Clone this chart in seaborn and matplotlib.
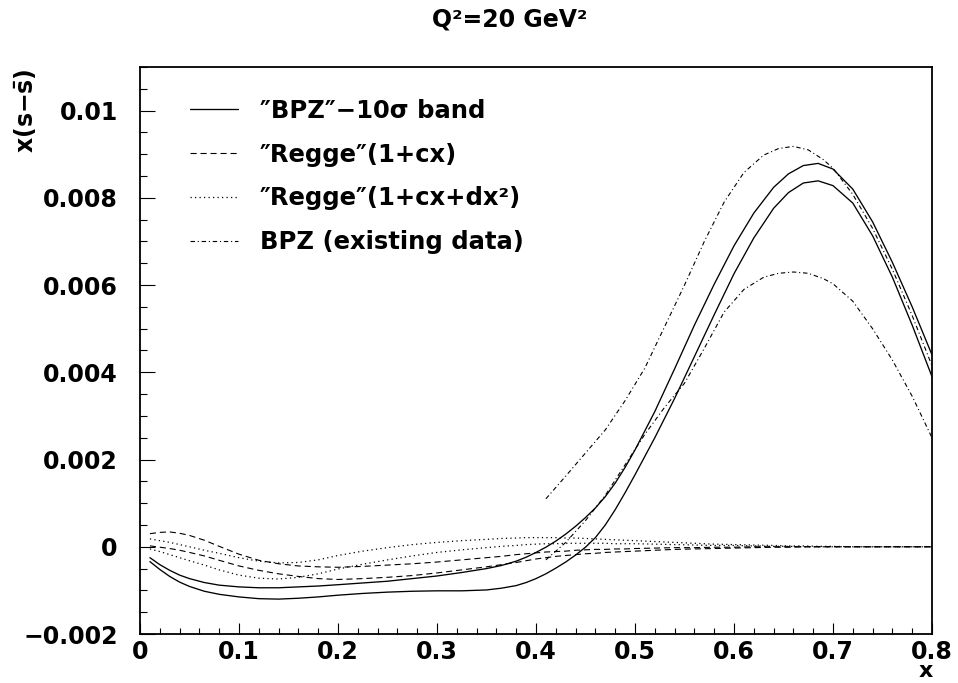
import numpy as np
import pandas as pd
import matplotlib
matplotlib.use("Agg")
import matplotlib.pyplot as plt
from matplotlib.lines import Line2D
from matplotlib.ticker import MultipleLocator, FixedLocator, FixedFormatter
import seaborn as sns

# ---------------- data ----------------
X_BAND = [0.01, 0.02, 0.03, 0.04, 0.05, 0.065, 0.08, 0.10, 0.12, 0.14,
          0.16, 0.18, 0.20, 0.225, 0.25, 0.275, 0.30, 0.325, 0.35, 0.365,
          0.38, 0.39, 0.40, 0.41, 0.42, 0.43, 0.44, 0.45, 0.46, 0.47,
          0.48, 0.49, 0.50, 0.52, 0.54, 0.56, 0.58, 0.60, 0.62, 0.64,
          0.655, 0.67, 0.685, 0.70, 0.72, 0.74, 0.76, 0.78, 0.80]

BPZ_BAND_UPPER = [-0.00025, -0.00041, -0.00054, -0.00065, -0.00073, -0.00082,
                  -0.00088, -0.00092, -0.00094, -0.00094,
                  -0.00092, -0.00090, -0.00087, -0.00083, -0.00079, -0.00073,
                  -0.00067, -0.00059, -0.00050, -0.00043,
                  -0.00033, -0.00024, -0.00013, -0.00001, 0.00013, 0.00029,
                  0.00047, 0.00067, 0.00089, 0.00115,
                  0.00146, 0.00182, 0.00222, 0.00310, 0.00408, 0.00508,
                  0.00602, 0.00690, 0.00765, 0.00824,
                  0.00855, 0.00874, 0.00879, 0.00866, 0.00820, 0.00745,
                  0.00652, 0.00550, 0.00440]

BPZ_BAND_LOWER = [-0.00034, -0.00052, -0.00068, -0.00081, -0.00091, -0.00102,
                  -0.00109, -0.00115, -0.00119, -0.00120,
                  -0.00118, -0.00115, -0.00111, -0.00107, -0.00104, -0.00102,
                  -0.00101, -0.00101, -0.00099, -0.00095,
                  -0.00089, -0.00082, -0.00073, -0.00062, -0.00049, -0.00035,
                  -0.00019, -0.00001, 0.00021, 0.00050,
                  0.00085, 0.00124, 0.00165, 0.00250, 0.00340, 0.00436,
                  0.00532, 0.00626, 0.00708, 0.00776,
                  0.00812, 0.00834, 0.00839, 0.00828, 0.00788, 0.00713,
                  0.00618, 0.00508, 0.00390]

REGGE1_UPPER = [0.00030, 0.00033, 0.00034, 0.00031, 0.00026, 0.00015,
                0.00001, -0.00017, -0.00031, -0.00039,
                -0.00044, -0.00046, -0.00047, -0.00045, -0.00042, -0.00039,
                -0.00035, -0.00030, -0.00025, -0.00022,
                -0.00018, -0.00016, -0.00014, -0.00012, -0.00011, -0.00010,
                -0.00008, -0.00007, -0.00006, -0.00006,
                -0.00005, -0.00005, -0.00004, -0.00003, -0.00002, -0.00002,
                -0.00001, -0.00001, 0.0, 0.0,
                0.0, 0.0, 0.0, 0.0, 0.0, 0.0, 0.0, 0.0, 0.0]

REGGE1_LOWER = [0.00002, -0.00001, -0.00004, -0.00008, -0.00013, -0.00021,
                -0.00031, -0.00044, -0.00054, -0.00062,
                -0.00068, -0.00073, -0.00075, -0.00073, -0.00070, -0.00066,
                -0.00060, -0.00053, -0.00046, -0.00041,
                -0.00036, -0.00032, -0.00028, -0.00025, -0.00022, -0.00020,
                -0.00018, -0.00016, -0.00015, -0.00013,
                -0.00012, -0.00011, -0.00010, -0.00008, -0.00006, -0.00005,
                -0.00004, -0.00003, -0.00002, -0.00001,
                -0.00001, 0.0, 0.0, 0.0, 0.0, 0.0, 0.0, 0.0, 0.0]

REGGE2_UPPER = [0.00018, 0.00014, 0.00010, 0.00005, 0.00000, -0.00008,
                -0.00015, -0.00025, -0.00033, -0.00037,
                -0.00036, -0.00030, -0.00020, -0.00010, -0.00002, 0.00005,
                0.00010, 0.00014, 0.00017, 0.00019,
                0.00020, 0.00021, 0.00021, 0.00021, 0.00021, 0.00020,
                0.00020, 0.00019, 0.00018, 0.00017,
                0.00016, 0.00015, 0.00014, 0.00012, 0.00010, 0.00008,
                0.00006, 0.00005, 0.00004, 0.00003,
                0.00002, 0.00002, 0.00001, 0.00001, 0.0, 0.0, 0.0, 0.0, 0.0]

REGGE2_LOWER = [-0.00005, -0.00011, -0.00018, -0.00025, -0.00032, -0.00042,
                -0.00053, -0.00065, -0.00072, -0.00074,
                -0.00070, -0.00062, -0.00051, -0.00040, -0.00030, -0.00021,
                -0.00013, -0.00007, -0.00002, 0.00001,
                0.00003, 0.00005, 0.00006, 0.00007, 0.00007, 0.00008,
                0.00008, 0.00008, 0.00008, 0.00008,
                0.00007, 0.00007, 0.00007, 0.00006, 0.00005, 0.00004,
                0.00003, 0.00003, 0.00002, 0.00001,
                0.00001, 0.0, 0.0, 0.0, 0.0, 0.0, 0.0, 0.0, 0.0]

X_EXIST = [0.41, 0.43, 0.45, 0.47, 0.49, 0.51, 0.53, 0.55, 0.57, 0.59, 0.61,
           0.63, 0.645, 0.66, 0.675, 0.69, 0.70, 0.72, 0.74, 0.76, 0.78, 0.80]

BPZ_EXIST_UPPER = [0.00110, 0.00162, 0.00215, 0.00268, 0.00335, 0.00410,
                   0.00505, 0.00600, 0.00700, 0.00790, 0.00858, 0.00898,
                   0.00913, 0.00918, 0.00910, 0.00888, 0.00868, 0.00808,
                   0.00730, 0.00636, 0.00530, 0.00415]

BPZ_EXIST_LOWER = [-0.00030, 0.00010, 0.00060, 0.00118, 0.00188, 0.00258,
                   0.00320, 0.00375, 0.00455, 0.00538, 0.00590, 0.00618,
                   0.00627, 0.00630, 0.00627, 0.00615, 0.00603, 0.00563,
                   0.00500, 0.00428, 0.00345, 0.00250]

LEGEND_LABELS = ["\u2033BPZ\u2033\u221210\u03c3 band",
                 "\u2033Regge\u2033(1+cx)",
                 "\u2033Regge\u2033(1+cx+dx\u00b2)",
                 "BPZ (existing data)"]

X_TICKS = [0.0, 0.1, 0.2, 0.3, 0.4, 0.5, 0.6, 0.7, 0.8]
X_TICK_LABELS = ["0", "0.1", "0.2", "0.3", "0.4", "0.5", "0.6", "0.7", "0.8"]
Y_TICKS = [-0.002, 0.0, 0.002, 0.004, 0.006, 0.008, 0.010]
Y_TICK_LABELS = ["\u22120.002", "0", "0.002", "0.004", "0.006", "0.008", "0.01"]

TITLE = "Q\u00b2=20 GeV\u00b2"
YLABEL = r"$\mathbf{x(s{-}\bar{s})}$"
XLABEL = "x"

# ---------------- styles ----------------
DASHED = (0, (5.5, 3.5))
DOTTED = (0, (1.0, 2.6))
DASHDOT = (0, (4.0, 2.5, 1.0, 2.5))

curves = [
    ("bpz_up", X_BAND, BPZ_BAND_UPPER, "-", 0.95),
    ("bpz_lo", X_BAND, BPZ_BAND_LOWER, "-", 0.95),
    ("r1_up", X_BAND, REGGE1_UPPER, DASHED, 0.8),
    ("r1_lo", X_BAND, REGGE1_LOWER, DASHED, 0.8),
    ("r2_up", X_BAND, REGGE2_UPPER, DOTTED, 0.9),
    ("r2_lo", X_BAND, REGGE2_LOWER, DOTTED, 0.9),
    ("ex_up", X_EXIST, BPZ_EXIST_UPPER, DASHDOT, 0.8),
    ("ex_lo", X_EXIST, BPZ_EXIST_LOWER, DASHDOT, 0.8),
]

frames = []
for name, xs, ys, _, _ in curves:
    assert len(xs) == len(ys), (name, len(xs), len(ys))
    frames.append(pd.DataFrame({"x": xs, "y": ys, "curve": name}))
df = pd.concat(frames, ignore_index=True)

# ---------------- figure ----------------
sns.set_theme(style="ticks")
plt.rcParams["font.family"] = ["DejaVu Sans"]
plt.rcParams["font.weight"] = "bold"
plt.rcParams["mathtext.default"] = "regular"
plt.rcParams["text.color"] = "black"

fig = plt.figure(figsize=(9.58, 6.83), dpi=100)
ax = fig.add_axes([140 / 958, 1 - 634 / 683, 792 / 958, 567 / 683])

for name, _, _, ls, lw in curves:
    sns.lineplot(data=df[df["curve"] == name], x="x", y="y", ax=ax,
                 color="black", linewidth=lw, linestyle=ls,
                 estimator=None, sort=False, legend=False)

ax.set_xlim(0, 0.8)
ax.set_ylim(-0.002, 0.011)
ax.set_xlabel("")
ax.set_ylabel("")

ax.xaxis.set_major_locator(FixedLocator(X_TICKS))
ax.xaxis.set_major_formatter(FixedFormatter(X_TICK_LABELS))
ax.yaxis.set_major_locator(FixedLocator(Y_TICKS))
ax.yaxis.set_major_formatter(FixedFormatter(Y_TICK_LABELS))
ax.xaxis.set_minor_locator(MultipleLocator(0.02))
ax.yaxis.set_minor_locator(MultipleLocator(0.0005))

ax.tick_params(which="both", direction="in", top=False, right=False,
               color="black", width=0.8, labelsize=17, labelcolor="black")
ax.tick_params(axis="x", which="major", length=8, pad=4)
ax.tick_params(axis="x", which="minor", length=4)
ax.tick_params(axis="y", which="major", length=11, pad=16)
ax.tick_params(axis="y", which="minor", length=5)
for lab in ax.get_xticklabels() + ax.get_yticklabels():
    lab.set_fontweight("bold")

for sp in ax.spines.values():
    sp.set_visible(True)
    sp.set_linewidth(1.3)
    sp.set_color("black")

handles = [
    Line2D([], [], color="black", lw=0.95, linestyle="-"),
    Line2D([], [], color="black", lw=0.8, linestyle=DASHED),
    Line2D([], [], color="black", lw=0.9, linestyle=DOTTED),
    Line2D([], [], color="black", lw=0.8, linestyle=DASHDOT),
]
leg = ax.legend(handles, LEGEND_LABELS, loc="upper left",
                bbox_to_anchor=(50 / 792, (634 - 99) / 567), frameon=False,
                prop={"size": 17.5, "weight": "bold"},
                handlelength=1.97, handletextpad=0.9,
                labelspacing=0.81, borderpad=0, borderaxespad=0)

fig.text(510 / 958, 1 - 20 / 683, TITLE, ha="center", va="center",
         fontsize=17, fontweight="bold")
fig.text(26 / 958, 1 - 68 / 683, YLABEL, ha="center", va="top",
         rotation=90, fontsize=17)
fig.text(926 / 958, 1 - 671 / 683, XLABEL, ha="center", va="center",
         fontsize=16, fontweight="bold")

fig.savefig("out.png", dpi=100)
